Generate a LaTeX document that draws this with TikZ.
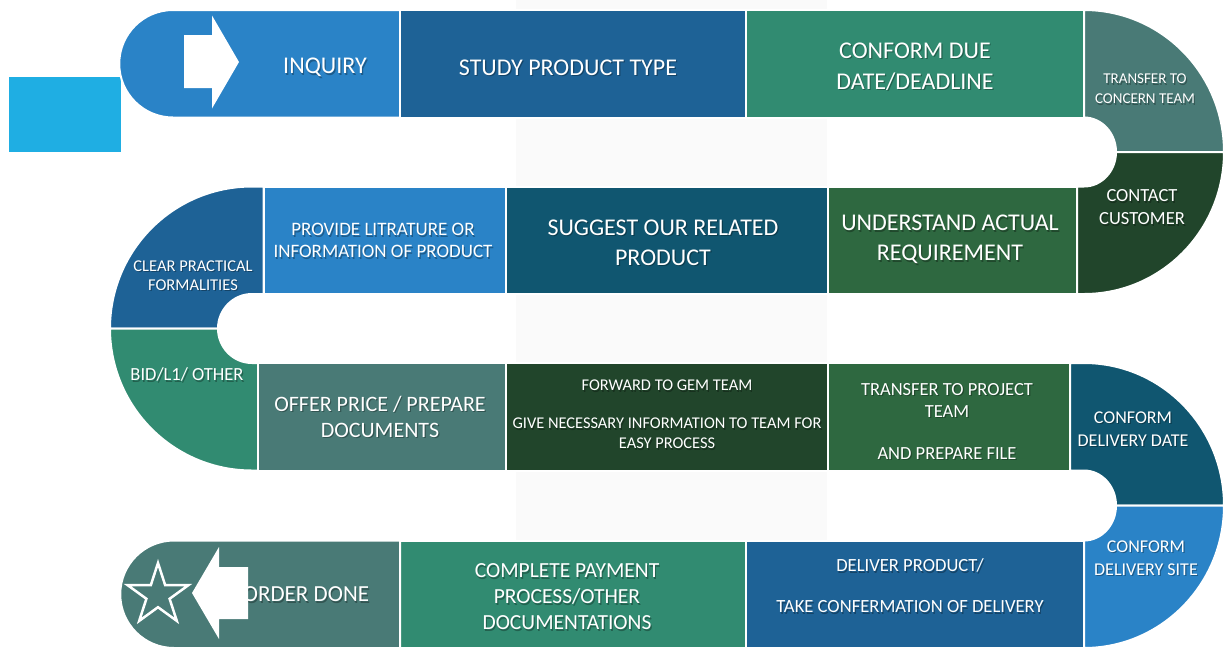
\documentclass[tikz,border=0pt]{standalone}
\usepackage{fontspec}
\setmainfont{Carlito}
\definecolor{cA}{HTML}{2A83C7}
\definecolor{cB}{HTML}{1E6296}
\definecolor{cC}{HTML}{318B71}
\definecolor{cD}{HTML}{497A76}
\definecolor{cE}{HTML}{21452B}
\definecolor{cF}{HTML}{2E6840}
\definecolor{cG}{HTML}{105670}
\definecolor{skyblue}{HTML}{1FAEE3}
\definecolor{backpanel}{HTML}{FAFAFA}
\newcommand{\fsz}[2]{\fontsize{#1}{#2}\selectfont}
% all step labels; #1 = extra style, #2 = name prefix
\newcommand{\steplabels}[2]{%
\node[#1,font=\fsz{24}{30}] (#2inq) at (325,-67.5) {INQUIRY};
\node[#1,font=\fsz{24}{30}] (#2study) at (568,-67.5) {STUDY PRODUCT TYPE};
\node[#1,font=\fsz{24}{31}] (#2due) at (915,-66.5) {CONFORM DUE\\DATE/DEADLINE};
\node[#1,font=\fsz{15}{20}] (#2concern) at (1145,-89) {TRANSFER TO\\CONCERN TEAM};
\node[#1,font=\fsz{18.5}{23}] (#2contact) at (1142,-207.5) {CONTACT\\CUSTOMER};
\node[#1,font=\fsz{24}{30}] (#2underst) at (950,-239.5) {UNDERSTAND ACTUAL\\REQUIREMENT};
\node[#1,font=\fsz{24}{30}] (#2suggest) at (663,-242.5) {SUGGEST OUR RELATED\\PRODUCT};
\node[#1,font=\fsz{19}{22}] (#2provide) at (383,-240.5) {PROVIDE LITRATURE OR\\INFORMATION OF PRODUCT};
\node[#1,font=\fsz{16.5}{19}] (#2clear) at (193,-275.5) {CLEAR PRACTICAL\\FORMALITIES};
\node[#1,font=\fsz{18.5}{23}] (#2bid) at (187,-374.5) {BID/L1/ OTHER};
\node[#1,font=\fsz{22}{26}] (#2offer) at (380,-416.5) {OFFER PRICE / PREPARE\\DOCUMENTS};
\node[#1,font=\fsz{16.4}{20}] (#2forward) at (667,-414.5) {FORWARD TO GEM TEAM\\[18pt]GIVE NECESSARY INFORMATION TO TEAM FOR\\EASY PROCESS};
\node[#1,font=\fsz{18.5}{22}] (#2project) at (947,-421) {TRANSFER TO PROJECT\\TEAM\\[20pt]AND PREPARE FILE};
\node[#1,font=\fsz{18}{23}] (#2ddate) at (1133,-429) {CONFORM\\DELIVERY DATE};
\node[#1,font=\fsz{18}{23}] (#2dsite) at (1146,-558) {CONFORM\\DELIVERY SITE};
\node[#1,font=\fsz{18.6}{21}] (#2deliver) at (910,-585.5) {DELIVER PRODUCT/\\[20pt]TAKE CONFERMATION OF DELIVERY};
\node[#1,font=\fsz{21.5}{26}] (#2payment) at (567,-596.5) {COMPLETE PAYMENT\\PROCESS/OTHER\\DOCUMENTATIONS};
\node[#1,font=\fsz{23}{28}] (#2done) at (306,-594.5) {ORDER DONE};
}
\begin{document}
\begin{tikzpicture}[x=1pt,y=1pt,
  seg/.style={draw=white,line width=2pt},
  lbl/.style={text=white,align=center,inner sep=0pt},
  lblshadow/.style={text=black,text opacity=0.3,align=center,inner sep=0pt,xshift=1.2pt,yshift=-1.6pt},
  mark arrow/.style={fill=white},
]
\useasboundingbox (0,0) rectangle (1224,-649);
\fill[white] (0,0) rectangle (1224,-649);
\fill[backpanel] (516,0) rectangle (827,-649);
\fill[skyblue] (9,-77) rectangle (121,-152);

% ---- first lane (left to right)
\path[seg,fill=cA] (400,-10) -- (173,-10) arc[start angle=90,end angle=270,radius=53.75] -- (400,-117.5) -- cycle;
\path[seg,fill=cB] (400,-10) rectangle (746,-117.5);
\path[seg,fill=cC] (746,-10) rectangle (1084,-117.5);
% right bend, upper half and lower half
\path[seg,fill=cD] (1084,-10) arc[start angle=90,end angle=0,x radius=140,y radius=142]
  -- (1116,-152) arc[start angle=0,end angle=90,x radius=32,y radius=34.5] -- cycle;
\path[seg,fill=cE] (1077,-294) -- (1084,-294) arc[start angle=-90,end angle=0,x radius=140,y radius=142]
  -- (1116,-152) arc[start angle=0,end angle=-90,x radius=32,y radius=34.5] -- (1077,-186.5) -- cycle;

% ---- second lane (right to left)
\path[seg,fill=cF] (828,-186.5) rectangle (1077,-294);
\path[seg,fill=cG] (506,-186.5) rectangle (828,-294);
\path[seg,fill=cA] (263.5,-186.5) rectangle (506,-294);
% left bend
\path[seg,fill=cB] (263.5,-186.5) -- (252,-186.5) arc[start angle=90,end angle=180,x radius=142,y radius=142]
  -- (218,-328.5) arc[start angle=180,end angle=90,x radius=34,y radius=34.5] -- (263.5,-294) -- cycle;
\path[seg,fill=cC] (258,-470.5) -- (252,-470.5) arc[start angle=270,end angle=180,x radius=142,y radius=142]
  -- (218,-328.5) arc[start angle=180,end angle=270,x radius=34,y radius=34.5] -- (258,-363) -- cycle;

% ---- third lane (left to right)
\path[seg,fill=cD] (258,-363) rectangle (506,-470.5);
\path[seg,fill=cE] (506,-363) rectangle (828,-470.5);
\path[seg,fill=cF] (828,-363) rectangle (1070,-470.5);
% right bend
\path[seg,fill=cG] (1070,-363) -- (1084,-363) arc[start angle=90,end angle=0,x radius=140,y radius=142.5]
  -- (1116,-505.5) arc[start angle=0,end angle=90,x radius=32,y radius=35] -- (1070,-470.5) -- cycle;
\path[seg,fill=cA] (1084,-648) arc[start angle=-90,end angle=0,x radius=140,y radius=142.5]
  -- (1116,-505.5) arc[start angle=0,end angle=-90,x radius=32,y radius=35] -- cycle;

% ---- fourth lane (right to left)
\path[seg,fill=cB] (746,-540.5) rectangle (1084,-648);
\path[seg,fill=cC] (400,-540.5) rectangle (746,-648);
\path[seg,fill=cD] (400,-540.5) -- (174,-540.5) arc[start angle=90,end angle=270,radius=53.75] -- (400,-648) -- cycle;

% ---- labels with a soft drop shadow
\steplabels{lblshadow}{sh-}
\steplabels{lbl}{}

% ---- start and finish marks
\fill[mark arrow] (184,-35) -- (212,-35) -- (212,-15.5) -- (239,-62) -- (212,-108.5) -- (212,-88) -- (184,-88) -- cycle;
\fill[mark arrow] (248,-567) -- (219,-567) -- (219,-547) -- (192,-593) -- (219,-639) -- (219,-619) -- (248,-619) -- cycle;
\draw[white,line width=2.5pt,shift={(158,-595)}] (90:32) -- (126:12.2) -- (162:32) -- (198:12.2) -- (234:32)
  -- (270:12.2) -- (306:32) -- (342:12.2) -- (18:32) -- (54:12.2) -- cycle;
\end{tikzpicture}
\end{document}
